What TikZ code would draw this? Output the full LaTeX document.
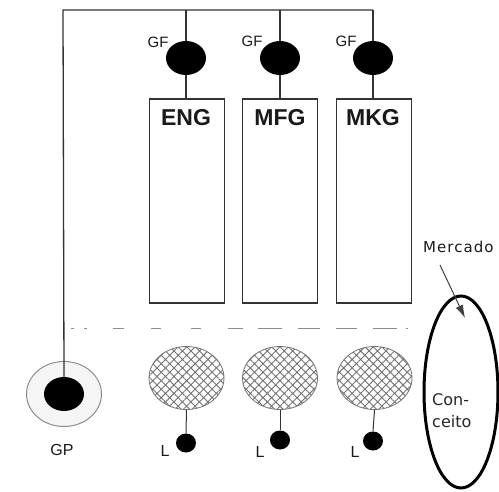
\documentclass[tikz,border=0pt]{standalone}
\usepackage{fontspec}
\setmainfont{Liberation Sans}
\newfontfamily\widefont{DejaVu Sans}
\newfontfamily\spacedfont[LetterSpace=7]{DejaVu Sans}
\usetikzlibrary{shapes.geometric,patterns.meta,arrows.meta}
\begin{document}
\begin{tikzpicture}[x=1pt,y=-1pt,
  wire/.style={draw=black!80,line width=1.3pt},
  gfdot/.style={ellipse,fill=black,minimum width=40pt,minimum height=34pt,inner sep=0pt},
  dept/.style={rectangle,draw=black!80,line width=1.3pt,minimum width=75pt,minimum height=204pt,inner sep=0pt},
  deptname/.style={font=\bfseries\fontsize{23}{23}\selectfont,inner sep=0pt,text=black!90},
  small/.style={font=\fontsize{15}{15}\selectfont,inner sep=0pt,text=black!90},
  team/.style={ellipse,draw=black!55,line width=0.8pt,minimum width=75pt,minimum height=63pt,
    pattern={Hatch[angle=45,distance=6pt,line width=0.9pt]},pattern color=black!55},
  ldot/.style={ellipse,fill=black,minimum width=20pt,minimum height=19pt,inner sep=0pt},
  sep/.style={draw=black!45,line width=1pt}
]
\useasboundingbox (0,0) rectangle (499,491);

% departments
\node[dept] (eng) at (187,201) {};
\node[dept] (mfg) at (280,201) {};
\node[dept] (mkg) at (374,201) {};
\node[deptname] (engl) at (186,118) {ENG};
\node[deptname] (mfgl) at (280,118) {MFG};
\node[deptname] (mkgl) at (373,118) {MKG};

% functional managers
\node[gfdot] (gf1) at (186,58) {};
\node[gfdot] (gf2) at (280,58) {};
\node[gfdot] (gf3) at (373,58) {};
\node[small] (gf1l) at (158,42) {GF};
\node[small] (gf2l) at (252,41) {GF};
\node[small] (gf3l) at (346,41) {GF};

% project manager
\node[ellipse,draw=black!45,fill=black!4,line width=1pt,minimum width=75pt,minimum height=65pt] (gpring) at (64,394) {};
\node[gfdot] (gp) at (64,394) {};
\node[small,font=\fontsize{16}{16}\selectfont] (gpl) at (62,450) {GP};

% reporting bus
\coordinate (busl) at (63,10);
\coordinate (bus1) at (186,10);
\coordinate (bus2) at (280,10);
\coordinate (busr) at (373,10);
\draw[wire] (gp.north) -- (busl) -- (busr);
\draw[wire] (bus1) -- (gf1.north);
\draw[wire] (bus2) -- (gf2.north);
\draw[wire] (busr) -- (gf3.north);
\draw[wire] (gf1.south) -- (eng.north -| gf1.south);
\draw[wire] (gf2.south) -- (mfg.north -| gf2.south);
\draw[wire] (gf3.south) -- (mkg.north -| gf3.south);

% dashed separation line
\foreach \a/\b in {71/74,84/87,113/124,151/161,191/201,228/243,258/282,298/320,336/357,373/397,406/408}
  \draw[sep] (\a,328) -- (\b,328);

% project teams
\node[team] (t1) at (186.5,378) {};
\node[team] (t2) at (280,378) {};
\node[team] (t3) at (374.5,378) {};
\node[ldot] (l1) at (186,443) {};
\node[ldot] (l2) at (280,440) {};
\node[ldot] (l3) at (373,441) {};
\draw[wire,line width=1pt] (t1.south) -- (l1.north);
\draw[wire,line width=1pt] (t2.south) -- (l2.north);
\draw[wire,line width=1pt] (t3.south) -- (l3.north);
\node[small,font=\fontsize{16}{16}\selectfont] (l1l) at (165,451) {L};
\node[small,font=\fontsize{16}{16}\selectfont] (l2l) at (260,452) {L};
\node[small,font=\fontsize{16}{16}\selectfont] (l3l) at (355,452) {L};

% market
\node[ellipse,draw=black,line width=3pt,minimum width=74pt,minimum height=192pt,inner sep=0pt] (mkt) at (461,392) {};
\node[anchor=west,inner sep=0pt,font=\spacedfont\fontsize{15}{15}\selectfont,text=black!90] (mktl) at (423,247) {Mercado};
\coordinate (mkttail) at (440,265);
\coordinate (mkttip) at (465,318);
\draw[draw=black!75,line width=1pt,-{Latex[length=13pt,width=8pt]}] (mkttail) -- (mkttip);
\node[anchor=north west,inner sep=0pt,align=left,text=black!85,
  font=\widefont\fontsize{16}{22}\selectfont] (concept) at (432,393) {Con-\\ceito};
\end{tikzpicture}
\end{document}
